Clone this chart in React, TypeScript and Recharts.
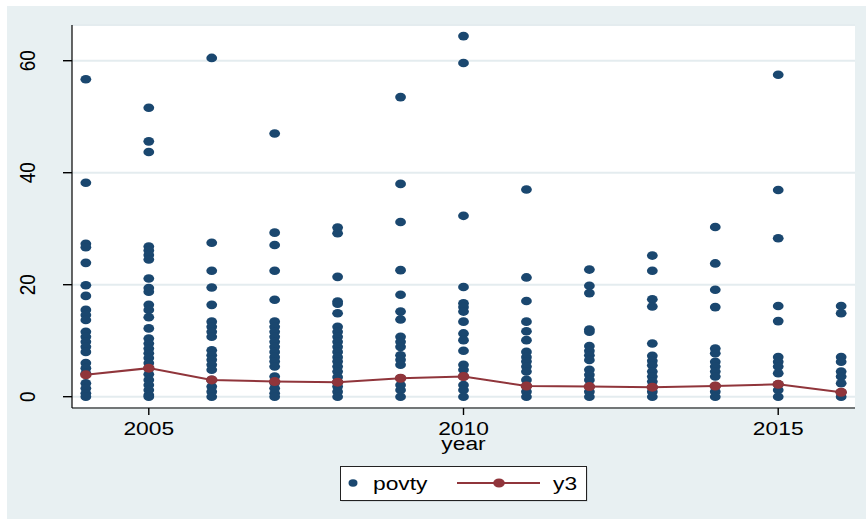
import React from 'react';
import { ComposedChart, Scatter, Line, XAxis, YAxis, CartesianGrid, Legend, Label } from 'recharts';

const years = [2004, 2005, 2006, 2007, 2008, 2009, 2010, 2011, 2012, 2013, 2014, 2015, 2016];

const p2004 = [56.7, 38.2, 27.3, 26.7, 23.9, 19.9, 18.0, 15.5, 14.6, 13.7, 11.6, 10.7, 9.8, 8.9, 8.0, 6.0, 5.1, 4.2, 2.4, 1.5, 0.6, 0];
const p2005 = [51.6, 45.6, 43.7, 26.8, 26.1, 25.3, 24.5, 21.1, 19.4, 18.75, 16.4, 15.5, 14.2, 12.2, 10.4, 9.5, 8.6, 7.75, 6.9, 6.0, 5.1, 4.0, 3.0, 2.1, 1.2, 0.3, 0];
const p2006 = [60.5, 27.5, 22.5, 19.5, 16.4, 13.4, 12.5, 11.6, 10.7, 8.3, 7.4, 6.6, 5.7, 4.8, 3.0, 1.8, 0.9, 0];
const p2007 = [47.0, 29.3, 27.1, 22.5, 17.3, 13.4, 12.5, 11.6, 10.7, 9.8, 8.9, 8.0, 7.1, 6.3, 5.4, 3.6, 2.5, 1.5, 0.6, 0];
const p2008 = [30.2, 29.2, 21.4, 17.0, 16.6, 14.9, 12.5, 11.6, 10.7, 9.8, 8.9, 8.0, 7.1, 6.3, 5.4, 4.5, 3.5, 2.6, 1.8, 0.9, 0];
const p2009 = [53.5, 38.0, 31.2, 22.6, 18.2, 15.2, 13.8, 10.7, 9.8, 8.9, 7.4, 6.6, 5.7, 3.3, 2.1, 1.2, 0];
const p2010 = [64.4, 59.6, 32.3, 19.6, 16.7, 16.0, 15.2, 13.4, 11.3, 10.1, 8.2, 5.7, 4.8, 3.6, 2.1, 1.2, 0];
const p2011 = [37.0, 21.3, 17.1, 13.4, 11.7, 10.1, 8.0, 7.1, 6.3, 5.4, 4.5, 3.0, 1.9, 0.9, 0];
const p2012 = [22.7, 19.8, 18.5, 12.0, 11.6, 9.05, 8.2, 7.4, 6.55, 4.8, 3.9, 3.0, 1.8, 0.9, 0];
const p2013 = [25.2, 22.5, 17.4, 16.1, 9.5, 7.3, 6.4, 5.6, 4.5, 3.6, 2.7, 1.7, 0.9, 0];
const p2014 = [30.3, 23.8, 19.1, 16.0, 8.6, 7.75, 6.25, 5.4, 4.5, 3.6, 1.9, 0.9, 0];
const p2015 = [57.5, 36.9, 28.3, 16.2, 13.5, 7.1, 6.25, 5.4, 4.2, 2.2, 1.2, 0];
const p2016 = [16.2, 14.9, 7.1, 6.25, 4.5, 3.6, 2.4, 0.8, 0];

const y3 = [3.9, 5.1, 3.0, 2.7, 2.6, 3.3, 3.6, 1.9, 1.8, 1.7, 1.9, 2.2, 0.8];

const xTicks = [2005, 2010, 2015];
const yTicks = [0, 20, 40, 60];

const povtyColumns = [p2004, p2005, p2006, p2007, p2008, p2009, p2010, p2011, p2012, p2013, p2014, p2015, p2016];

const povtyData = povtyColumns.flatMap((col, i) => col.map((v) => ({ year: years[i], value: v })));
const y3Data = years.map((yr, i) => ({ year: yr, value: y3[i] }));

const BLUE = '#1a476f';
const RED = '#90353b';
const PANEL = '#e8f0f2';
const GRID = '#e4ecef';
const FONT = '"Liberation Sans", Arial, Helvetica, sans-serif';

const XTick = (props: any) => {
  const { x, y, payload } = props;
  return (
    <text transform={`translate(${x},${y + 18}) scale(1.2,1)`} textAnchor="middle" fontFamily={FONT} fontSize={19} fill="#000">
      {payload.value}
    </text>
  );
};

const YTick = (props: any) => {
  const { x, y, payload } = props;
  return (
    <text transform={`translate(${x - 26},${y}) scale(1.2,1) rotate(-90)`} textAnchor="middle" fontFamily={FONT} fontSize={19} fill="#000">
      {payload.value}
    </text>
  );
};

const YearLabel = (props: any) => {
  const vb = props.viewBox || {};
  const cx = vb.x + vb.width / 2;
  return (
    <text transform={`translate(${cx},450) scale(1.2,1)`} textAnchor="middle" fontFamily={FONT} fontSize={19} fill="#000">
      year
    </text>
  );
};

const Dot = (props: any) => {
  const { cx, cy } = props;
  return <ellipse cx={cx} cy={cy} rx={5.4} ry={4.3} fill={BLUE} />;
};

const LineDot = (props: any) => {
  const { cx, cy, index } = props;
  return <ellipse key={`d${index}`} cx={cx} cy={cy} rx={5.8} ry={4.5} fill={RED} />;
};

const LegendBox = () => (
  <svg width={250} height={38} style={{ overflow: 'visible', display: 'block' }}>
    <rect x={1.5} y={1.5} width={246} height={34} fill="#bfc6c9" />
    <rect x={0.5} y={0.5} width={246} height={34} fill="#fff" stroke="#222" strokeWidth={1} />
    <ellipse cx={13} cy={17} rx={4.5} ry={3.7} fill={BLUE} />
    <text transform="translate(33,23.5) scale(1.2,1)" fontFamily={FONT} fontSize={19} fill="#000">povty</text>
    <line x1={117} y1={17} x2={200} y2={17} stroke={RED} strokeWidth={2} />
    <ellipse cx={159} cy={17} rx={5.8} ry={4.5} fill={RED} />
    <text transform="translate(213,23.5) scale(1.2,1)" fontFamily={FONT} fontSize={19} fill="#000">y3</text>
  </svg>
);

export default function App() {
  return (
    <div style={{ position: 'absolute', left: 0, top: 0, width: 866, height: 519, background: '#fff' }}>
      <div style={{ position: 'absolute', left: 7, top: 6, width: 859, height: 513, background: PANEL }} />
      <div style={{ position: 'absolute', left: 0, top: 0 }}>
        <ComposedChart width={866} height={519} margin={{ top: 25, right: 11, bottom: 0, left: 0 }}>
          <CartesianGrid vertical={false} stroke={GRID} strokeWidth={2} fill="#fff" />
          <XAxis
            type="number"
            dataKey="year"
            domain={[2003.78, 2016.22]}
            allowDataOverflow
            ticks={xTicks}
            tickSize={7}
            height={111}
            axisLine={{ stroke: '#000', strokeWidth: 1.2 }}
            tickLine={{ stroke: '#000', strokeWidth: 1.4 }}
            tick={<XTick />}
            interval={0}
          >
            <Label content={<YearLabel />} />
          </XAxis>
          <YAxis
            type="number"
            domain={[-2.02, 66.38]}
            allowDataOverflow
            ticks={yTicks}
            tickSize={9}
            width={72}
            axisLine={{ stroke: '#000', strokeWidth: 1.2 }}
            tickLine={{ stroke: '#000', strokeWidth: 1.4 }}
            tick={<YTick />}
            interval={0}
          />
          <Scatter data={povtyData} dataKey="value" name="povty" shape={<Dot />} isAnimationActive={false} />
          <Line
            data={y3Data}
            dataKey="value"
            name="y3"
            stroke={RED}
            strokeWidth={2}
            dot={<LineDot />}
            activeDot={false}
            isAnimationActive={false}
          />
          <Legend
            layout="horizontal"
            verticalAlign="middle"
            align="center"
            content={<LegendBox />}
            wrapperStyle={{ position: 'absolute', left: 340, top: 466, width: 250, height: 38 }}
          />
        </ComposedChart>
      </div>
    </div>
  );
}
